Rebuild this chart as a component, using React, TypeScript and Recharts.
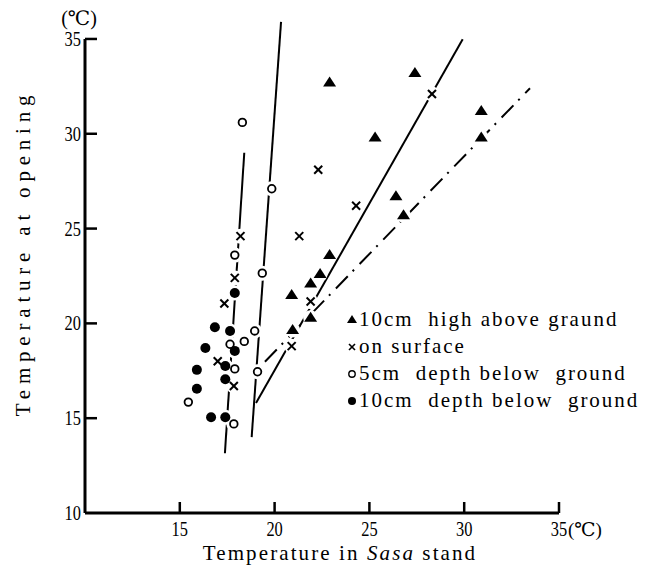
import React from 'react';
import { ScatterChart, Scatter, XAxis, YAxis, ReferenceLine, Legend, Label } from 'recharts';

// 10cm high above ground (filled triangles)
const aboveGround = [
  { x: 22.9, y: 32.7 }, { x: 27.4, y: 33.2 }, { x: 30.9, y: 31.2 }, { x: 30.9, y: 29.8 },
  { x: 25.3, y: 29.8 }, { x: 26.4, y: 26.7 }, { x: 26.8, y: 25.7 }, { x: 22.9, y: 23.6 },
  { x: 22.4, y: 22.6 }, { x: 21.9, y: 22.1 }, { x: 20.9, y: 21.5 }, { x: 21.9, y: 20.3 },
  { x: 20.95, y: 19.65 },
];
// on surface (crosses)
const onSurface = [
  { x: 28.3, y: 32.1 }, { x: 22.3, y: 28.1 }, { x: 24.3, y: 26.2 }, { x: 21.3, y: 24.6 },
  { x: 21.9, y: 21.15 }, { x: 20.9, y: 18.8 }, { x: 18.2, y: 24.6 }, { x: 17.9, y: 22.4 },
  { x: 17.35, y: 21.05 }, { x: 17.0, y: 18.0 }, { x: 17.85, y: 16.7 },
];
// 5cm depth below ground (open circles)
const depth5 = [
  { x: 18.3, y: 30.6 }, { x: 19.85, y: 27.1 }, { x: 17.9, y: 23.6 }, { x: 19.35, y: 22.65 },
  { x: 18.95, y: 19.6 }, { x: 18.4, y: 19.05 }, { x: 17.65, y: 18.9 }, { x: 17.9, y: 17.6 },
  { x: 19.1, y: 17.45 }, { x: 15.45, y: 15.85 }, { x: 17.85, y: 14.7 },
];
// 10cm depth below ground (filled circles)
const depth10 = [
  { x: 17.9, y: 21.6 }, { x: 16.85, y: 19.8 }, { x: 17.65, y: 19.6 }, { x: 16.35, y: 18.7 },
  { x: 17.9, y: 18.55 }, { x: 17.4, y: 17.75 }, { x: 15.9, y: 17.55 }, { x: 17.4, y: 17.05 },
  { x: 15.9, y: 16.55 }, { x: 16.65, y: 15.05 }, { x: 17.4, y: 15.05 },
];
// fitted lines
const fitDepth10 = [{ x: 17.38, y: 13.15 }, { x: 18.4, y: 29.0 }];
const fitDepth5 = [{ x: 18.79, y: 14.0 }, { x: 20.34, y: 35.9 }];
const fitAbove = [{ x: 19.02, y: 15.8 }, { x: 29.92, y: 34.98 }];
const fitSurface = [{ x: 19.49, y: 17.98 }, { x: 33.47, y: 32.4 }];

const xTicks = [15, 20, 25, 30, 35];
const yTicks = [10, 15, 20, 25, 30, 35];
const legendLabels = [
  '10cm  high above graund',
  'on surface',
  '5cm  depth below  ground',
  '10cm  depth below  ground',
];
const allPoints = [...aboveGround, ...onSurface, ...depth5, ...depth10];

const FONT = 'Liberation Serif, Times New Roman, Tinos, DejaVu Serif, Noto Serif, serif';

const Tri = (p: any) => (
  <polygon points={`${p.cx},${p.cy - 6} ${p.cx - 6.5},${p.cy + 4} ${p.cx + 6.5},${p.cy + 4}`} fill="#000" />
);
const Cross = (p: any) => (
  <g stroke="#000" strokeWidth={2}>
    <line x1={p.cx - 4} y1={p.cy - 4} x2={p.cx + 4} y2={p.cy + 4} />
    <line x1={p.cx - 4} y1={p.cy + 4} x2={p.cx + 4} y2={p.cy - 4} />
  </g>
);
const OpenC = (p: any) => <circle cx={p.cx} cy={p.cy} r={3.8} fill="#fff" stroke="#000" strokeWidth={1.8} />;
const FillC = (p: any) => <circle cx={p.cx} cy={p.cy} r={5} fill="#000" />;
const Halo = (p: any) => <circle cx={p.cx} cy={p.cy} r={7.5} fill="#fff" />;
const NoShape = () => <g />;

const XTick = (p: any) => {
  const { x, y, payload } = p;
  return (
    <g>
      <line x1={x} y1={y} x2={x} y2={y - 11} stroke="#000" strokeWidth={2.5} />
      <text transform={`translate(${x} ${y + 23}) scale(0.82 1)`} textAnchor="middle" fontFamily={FONT} fontSize={20} fill="#000">
        {payload.value}
      </text>
      {payload.value === 35 && (
        <text x={x + 9} y={y + 23} textAnchor="start" fontFamily={FONT} fontSize={19} fill="#000">(℃)</text>
      )}
    </g>
  );
};

const YTick = (p: any) => {
  const { x, y, payload } = p;
  const ax = x + 4;
  return (
    <g>
      {payload.value !== 10 && <line x1={ax} y1={y} x2={ax + 12} y2={y} stroke="#000" strokeWidth={2.5} />}
      <text transform={`translate(${x} ${y + 7}) scale(0.82 1)`} textAnchor="end" fontFamily={FONT} fontSize={20} fill="#000">
        {payload.value}
      </text>
    </g>
  );
};

const XTitle = (p: any) => {
  const vb = p.viewBox;
  return (
    <text x={vb.x + 255} y={vb.y + 47} textAnchor="middle" fontFamily={FONT} fontSize={21} letterSpacing={2.1} fill="#000">
      Temperature in <tspan fontStyle="italic">Sasa</tspan> stand
    </text>
  );
};

const YTitle = (p: any) => {
  const vb = p.viewBox;
  const cx = vb.x - 22;
  const cy = vb.y + 233;
  return (
    <text x={cx} y={cy} transform={`rotate(-90 ${cx} ${cy})`} textAnchor="middle" dominantBaseline="central" fontFamily={FONT} fontSize={21} letterSpacing={5.8} fill="#000">
      Temperature at opening
    </text>
  );
};

const YUnit = (p: any) => {
  const vb = p.viewBox;
  return (
    <text x={vb.x + 34} y={vb.y + 5} textAnchor="middle" fontFamily={FONT} fontSize={20} fill="#000">(℃)</text>
  );
};

const legendIcon = (i: number) => {
  if (i === 0) return <polygon points="6,2 1,10 11,10" fill="#000" />;
  if (i === 1) return (
    <g stroke="#000" strokeWidth={1.6}>
      <line x1={3} y1={4} x2={9} y2={10} />
      <line x1={3} y1={10} x2={9} y2={4} />
    </g>
  );
  if (i === 2) return <circle cx={6} cy={7} r={3.2} fill="#fff" stroke="#000" strokeWidth={1.4} />;
  return <circle cx={6} cy={7} r={4} fill="#000" />;
};

const renderLegend = () => (
  <div style={{ fontFamily: FONT, fontSize: 21, letterSpacing: 2, color: '#000' }}>
    {legendLabels.map((t, i) => (
      <div key={i} style={{ display: 'flex', alignItems: 'center', height: 27 }}>
        <svg width={12} height={14} style={{ marginRight: 1 }}>{legendIcon(i)}</svg>
        <span style={{ whiteSpace: 'pre', lineHeight: '27px' }}>{t}</span>
      </div>
    ))}
  </div>
);

export default function App() {
  return (
    <div style={{ position: 'absolute', left: 0, top: 0, width: 646, height: 568, background: '#fff' }}>
      <ScatterChart width={646} height={568} margin={{ top: 20, right: 87, bottom: 0, left: 45 }}>
        <XAxis
          type="number"
          dataKey="x"
          domain={[10, 35]}
          ticks={xTicks}
          interval={0}
          axisLine={{ stroke: '#000', strokeWidth: 3 }}
          tickLine={false}
          tickSize={0}
          tickMargin={0}
          height={55}
          tick={<XTick />}
        >
          <Label content={<XTitle />} />
        </XAxis>
        <YAxis
          type="number"
          dataKey="y"
          domain={[10, 36]}
          ticks={yTicks}
          interval={0}
          axisLine={false}
          tickLine={false}
          tickSize={0}
          tickMargin={4}
          width={40}
          tick={<YTick />}
        >
          <Label content={<YTitle />} />
          <Label content={<YUnit />} />
        </YAxis>
        <ReferenceLine
          segment={[{ x: 10, y: 10 }, { x: 10, y: 35 }]}
          stroke="#000"
          strokeWidth={3}
          ifOverflow="visible"
        />
        <Scatter data={fitDepth10} line={{ stroke: '#000', strokeWidth: 2 }} shape={<NoShape />} isAnimationActive={false} legendType="none" />
        <Scatter data={fitDepth5} line={{ stroke: '#000', strokeWidth: 2 }} shape={<NoShape />} isAnimationActive={false} legendType="none" />
        <Scatter data={fitAbove} line={{ stroke: '#000', strokeWidth: 2 }} shape={<NoShape />} isAnimationActive={false} legendType="none" />
        <Scatter data={fitSurface} line={{ stroke: '#000', strokeWidth: 2, strokeDasharray: '17 7 2 8' }} shape={<NoShape />} isAnimationActive={false} legendType="none" />
        <Scatter data={allPoints} shape={<Halo />} isAnimationActive={false} legendType="none" />
        <Scatter name="10cm high above graund" data={aboveGround} shape={<Tri />} isAnimationActive={false} />
        <Scatter name="on surface" data={onSurface} shape={<Cross />} isAnimationActive={false} />
        <Scatter name="5cm depth below ground" data={depth5} shape={<OpenC />} isAnimationActive={false} />
        <Scatter name="10cm depth below ground" data={depth10} shape={<FillC />} isAnimationActive={false} />
        <Legend
          content={renderLegend}
          layout="vertical"
          align="center"
          verticalAlign="middle"
          wrapperStyle={{ left: 346, top: 306, width: 300, height: 112 }}
        />
      </ScatterChart>
    </div>
  );
}
